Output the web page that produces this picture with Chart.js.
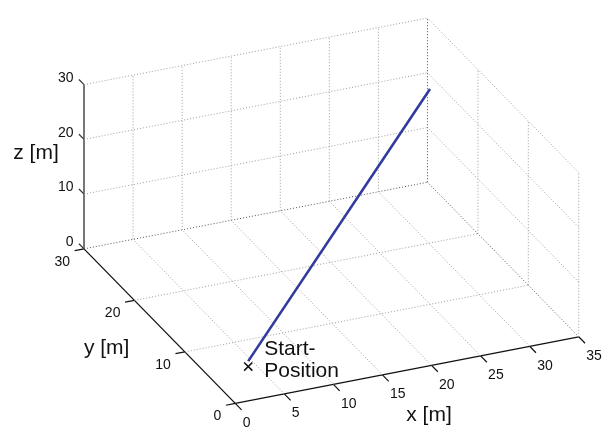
<!DOCTYPE html>
<html>
<head>
<meta charset="utf-8">
<script src="https://cdn.jsdelivr.net/npm/chart.js@4/dist/chart.umd.min.js"></script>
<style>
html,body{margin:0;padding:0;background:#fff;}
canvas{display:block;}
</style>
</head>
<body>
<canvas id="c" width="612" height="434"></canvas>
<script>
// ---- data ----
const xTicks = [0, 5, 10, 15, 20, 25, 30, 35];
const yTicks = [0, 10, 20, 30];
const zTicks = [0, 10, 20, 30];
const xGrid = [0, 5, 10, 15, 20, 25, 30, 35];
const yGrid = [0, 10, 20, 30];
const zGrid = [0, 10, 20, 30];
const trajX = [4.2, 35];
const trajY = [5.6, 29.5];
const trajZ = [1, 17.5];
const startPos = [4.2, 5.6, 0];
const axisLabels = {x: 'x [m]', y: 'y [m]', z: 'z [m]'};
const startText = ['Start-', 'Position'];

// ---- orthographic view (azimuth/elevation projection basis) ----
const view = {o: [233.5, 410], ex: [352/35, -69/35], ey: [-155/30, -160/30], ez: [0, -170/30]};
const X0 = xTicks[0], X1 = xTicks[xTicks.length-1];
const Y0 = yTicks[0], Y1 = yTicks[yTicks.length-1];
const Z0 = zTicks[0], Z1 = zTicks[zTicks.length-1];
function proj(x, y, z) {
  return {x: view.o[0] + x*view.ex[0] + y*view.ey[0] + z*view.ez[0],
          y: view.o[1] + x*view.ex[1] + y*view.ey[1] + z*view.ez[1]};
}
function seg(a, b, color, dash, width) {
  return {type: 'line', data: [proj(...a), proj(...b)], borderColor: color, borderDash: dash,
          borderWidth: width, pointRadius: 0, showLine: true, fill: false, order: 5};
}
const LG = '#9c9c9c', DG = '#505050', DOT = [1, 2];
const ds = [];
// floor grid (z = Z0)
xGrid.forEach(x => { if (x !== X0 && x !== X1) ds.push(seg([x, Y0, Z0], [x, Y1, Z0], LG, DOT, 1)); });
yGrid.forEach(y => { if (y !== Y0 && y !== Y1) ds.push(seg([X0, y, Z0], [X1, y, Z0], LG, DOT, 1)); });
// back wall (y = Y1)
xGrid.forEach(x => { if (x !== X0 && x !== X1) ds.push(seg([x, Y1, Z0], [x, Y1, Z1], LG, DOT, 1)); });
zGrid.forEach(z => { if (z !== Z0) ds.push(seg([X0, Y1, z], [X1, Y1, z], LG, DOT, 1)); });
// right wall (x = X1)
yGrid.forEach(y => { if (y !== Y1) ds.push(seg([X1, y, Z0], [X1, y, Z1], LG, DOT, 1)); });
zGrid.forEach(z => { if (z !== Z0) ds.push(seg([X1, Y0, z], [X1, Y1, z], LG, DOT, 1)); });
// shared box edges (drawn darker)
ds.push(seg([X0, Y1, Z0], [X1, Y1, Z0], DG, DOT, 1));
ds.push(seg([X1, Y0, Z0], [X1, Y1, Z0], DG, DOT, 1));
ds.push(seg([X1, Y1, Z0], [X1, Y1, Z1], DG, DOT, 1));
// axes
ds.push(seg([X0, Y0, Z0], [X1, Y0, Z0], '#111', [], 1.3));
ds.push(seg([X0, Y0, Z0], [X0, Y1, Z0], '#111', [], 1.3));
ds.push(seg([X0, Y1, Z0], [X0, Y1, Z1], '#555', [], 1.6));
// ticks
xTicks.forEach(x => ds.push(seg([x, Y0, Z0], [x, Y0 - 1.25, Z0], '#111', [], 1.2)));
yTicks.forEach(y => ds.push(seg([X0, y, Z0], [X0 - 0.95, y, Z0], '#111', [], 1.2)));
zTicks.forEach(z => ds.push(seg([X0, Y1, z], [X0, Y1 + 1.0, z], '#333', [], 1.2)));
// trajectory
ds.push({type: 'line', label: 'Trajectory', data: trajX.map((x, i) => proj(x, trajY[i], trajZ[i])),
  borderColor: '#2f3c9c', borderWidth: 2.6, pointRadius: 0, showLine: true, fill: false, order: 1});
// start marker
ds.push({type: 'scatter', label: 'Start', data: [proj(...startPos)], pointStyle: 'crossRot',
  pointRadius: 5.8, borderColor: '#111', borderWidth: 1.6, backgroundColor: '#111', order: 0});

const textPlugin = {
  id: 'text3d',
  afterDatasetsDraw(chart) {
    const ctx = chart.ctx, sx = chart.scales.x, sy = chart.scales.y;
    const px = p => [sx.getPixelForValue(p.x), sy.getPixelForValue(p.y)];
    ctx.save();
    ctx.fillStyle = '#111';
    ctx.font = '14px "Liberation Sans", Arial, sans-serif';
    ctx.textBaseline = 'middle';
    ctx.textAlign = 'left';
    xTicks.forEach(x => { const [u, v] = px(proj(x, Y0, Z0)); ctx.fillText(String(x), u + 7.5, v + 19.5); });
    ctx.textAlign = 'right';
    yTicks.forEach(y => { const [u, v] = px(proj(X0, y, Z0)); ctx.fillText(String(y), u - 14, v + 13); });
    zTicks.forEach(z => { const [u, v] = px(proj(X0, Y1, z)); ctx.fillText(String(z), u - 10.5, v - 6.5); });
    ctx.font = '21px "Liberation Sans", Arial, sans-serif';
    ctx.textAlign = 'center';
    let [u, v] = px(proj((X0 + X1) / 2, Y0, Z0)); ctx.fillText(axisLabels.x, u + 22, v + 45);
    [u, v] = px(proj(X0, (Y0 + Y1) / 2, Z0)); ctx.fillText(axisLabels.y, u - 53, v + 22);
    [u, v] = px(proj(X0, Y1, (Z0 + Z1) / 2)); ctx.fillText(axisLabels.z, u - 48, v - 14);
    ctx.textAlign = 'left';
    [u, v] = px(proj(...startPos));
    ctx.fillText(startText[0], u + 16, v - 17);
    ctx.fillText(startText[1], u + 16, v + 5);
    ctx.restore();
  }
};

new Chart(document.getElementById('c'), {
  type: 'scatter',
  data: {datasets: ds},
  options: {
    responsive: false,
    animation: false,
    layout: {padding: 0},
    plugins: {legend: {display: false}, tooltip: {enabled: false}},
    scales: {
      x: {type: 'linear', min: 0, max: 612, display: false},
      y: {type: 'linear', min: 0, max: 434, reverse: true, display: false}
    }
  },
  plugins: [textPlugin]
});
</script>
</body>
</html>
